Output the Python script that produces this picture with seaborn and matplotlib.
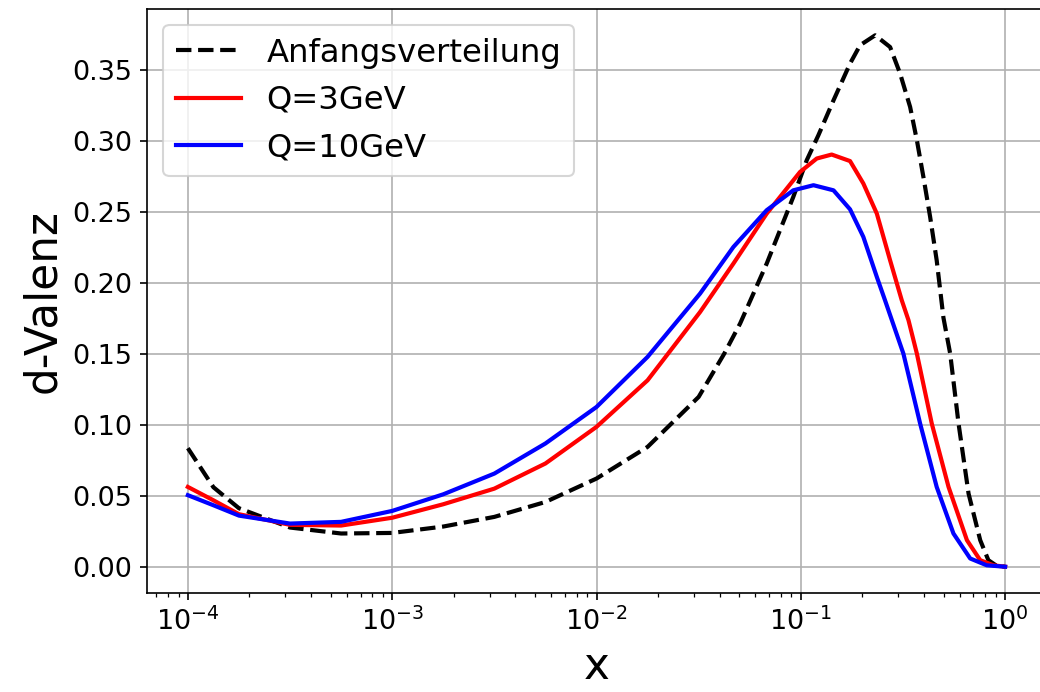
import numpy as np
import pandas as pd
import seaborn as sns
import matplotlib
matplotlib.use("Agg")
import matplotlib.pyplot as plt

# values; x given as log10 exponents
anfang_logx = [-4, -3.875, -3.75, -3.5, -3.25, -3, -2.75, -2.5, -2.25, -2,
               -1.75, -1.5, -1.375, -1.297, -1.167, -1.037, -0.971, -0.914,
               -0.84, -0.759, -0.71, -0.636, -0.563, -0.514, -0.465, -0.432,
               -0.4, -0.367, -0.335, -0.302, -0.269, -0.228, -0.179, -0.122,
               -0.082, -0.04, 0]
anfang = [0.0835, 0.056, 0.0412, 0.0276, 0.0234, 0.0238, 0.0283, 0.0351,
          0.0456, 0.0621, 0.0844, 0.1196, 0.150, 0.1713, 0.2135, 0.2604,
          0.2863, 0.3039, 0.3285, 0.3544, 0.3673, 0.3743, 0.366, 0.3473,
          0.3238, 0.3004, 0.2745, 0.2463, 0.2158, 0.1754, 0.1501, 0.1008,
          0.0515, 0.0187, 0.0046, 0.0005, 0.0]

q3_logx = [-4, -3.875, -3.75, -3.5, -3.25, -3, -2.75, -2.5, -2.25, -2,
           -1.75, -1.493, -1.33, -1.167, -1.004, -0.922, -0.849, -0.759,
           -0.694, -0.628, -0.563, -0.506, -0.473, -0.432, -0.359, -0.277,
           -0.187, -0.122, -0.057, 0]
q3 = [0.0562, 0.0468, 0.037, 0.0295, 0.029, 0.0345, 0.044, 0.055, 0.0727,
      0.0985, 0.1313, 0.1794, 0.2135, 0.2487, 0.278, 0.2875, 0.2903, 0.2857,
      0.2699, 0.2487, 0.2158, 0.1877, 0.1736, 0.1501, 0.1008, 0.0562,
      0.0187, 0.0046, 0.001, 0.0]

q10_logx = [-4, -3.875, -3.75, -3.5, -3.25, -3, -2.75, -2.5, -2.25, -2,
            -1.75, -1.493, -1.33, -1.167, -1.037, -0.938, -0.84, -0.759,
            -0.694, -0.628, -0.588, -0.498, -0.416, -0.335, -0.253, -0.171,
            -0.09, 0]
q10 = [0.0504, 0.0433, 0.036, 0.0304, 0.0316, 0.0393, 0.051, 0.0656, 0.0868,
       0.1125, 0.1478, 0.1924, 0.2252, 0.2511, 0.2651, 0.2687, 0.2651,
       0.2517, 0.2323, 0.2041, 0.1877, 0.1501, 0.1008, 0.0562, 0.0234,
       0.0058, 0.001, 0.0]

fig = plt.figure(figsize=(1040 / 150, 692 / 150), dpi=150)
ax = fig.add_axes([147 / 1040, 1 - 593.3 / 692, 899 / 1040, 584.6 / 692])

sns.lineplot(x=10.0 ** np.array(anfang_logx), y=anfang, ax=ax, color='black',
             linestyle='--', linewidth=2, label='Anfangsverteilung', sort=False)
sns.lineplot(x=10.0 ** np.array(q3_logx), y=q3, ax=ax, color='red',
             linewidth=2, label='Q=3GeV', sort=False)
sns.lineplot(x=10.0 ** np.array(q10_logx), y=q10, ax=ax, color='blue',
             linewidth=2, label='Q=10GeV', sort=False)

ax.set_xscale('log')
ax.margins(x=0.05, y=0.05)
ax.grid(True)
ax.set_xlabel('x', fontsize=21)
ax.set_ylabel('d-Valenz', fontsize=21)
ax.tick_params(labelsize=13)
ax.legend(loc='upper left', fontsize=15.5)

fig.savefig('out.png', dpi=150)
